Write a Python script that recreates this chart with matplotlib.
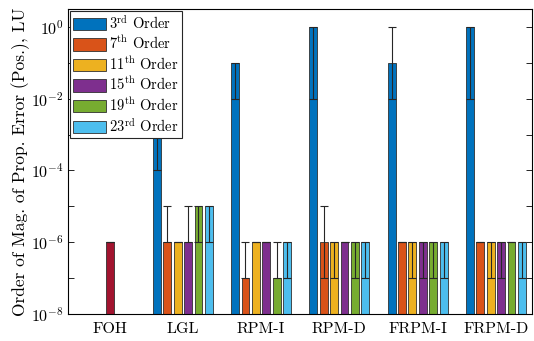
import numpy as np
import matplotlib
matplotlib.use("Agg")
import matplotlib.pyplot as plt
from matplotlib.ticker import FixedLocator, FuncFormatter

plt.rcParams["font.family"] = "serif"
plt.rcParams["font.serif"] = ["cmr10", "DejaVu Serif"]
plt.rcParams["mathtext.fontset"] = "cm"
plt.rcParams["axes.formatter.use_mathtext"] = True

groups = ["FOH", "LGL", "RPM-I", "RPM-D", "FRPM-I", "FRPM-D"]
orders = [r"3$^{\rm rd}$ Order", r"7$^{\rm th}$ Order", r"11$^{\rm th}$ Order",
          r"15$^{\rm th}$ Order", r"19$^{\rm th}$ Order", r"23$^{\rm rd}$ Order"]

# FOH (single series)
foh_val = 1e-6

# bar heights for LGL, RPM-I, RPM-D, FRPM-I, FRPM-D
val_3 = [1e-3, 1e-1, 1e0, 1e-1, 1e0]
val_7 = [1e-6, 1e-7, 1e-6, 1e-6, 1e-6]
val_11 = [1e-6, 1e-6, 1e-6, 1e-6, 1e-6]
val_15 = [1e-6, 1e-6, 1e-6, 1e-6, 1e-6]
val_19 = [1e-5, 1e-7, 1e-6, 1e-6, 1e-6]
val_23 = [1e-5, 1e-6, 1e-6, 1e-6, 1e-6]

# error bar lower ends
lo_3 = [1e-4, 1e-2, 1e-2, 1e-2, 1e-2]
lo_7 = [1e-6, 1e-7, 1e-7, 1e-6, 1e-6]
lo_11 = [1e-6, 1e-6, 1e-7, 1e-7, 1e-7]
lo_15 = [1e-6, 1e-6, 1e-6, 1e-7, 1e-7]
lo_19 = [1e-6, 1e-7, 1e-7, 1e-7, 1e-6]
lo_23 = [1e-6, 1e-7, 1e-7, 1e-7, 1e-7]

# error bar upper ends
hi_3 = [1e-3, 1e-1, 1e0, 1e0, 1e0]
hi_7 = [1e-5, 1e-6, 1e-5, 1e-6, 1e-6]
hi_11 = [1e-6, 1e-6, 1e-6, 1e-6, 1e-6]
hi_15 = [1e-5, 1e-6, 1e-6, 1e-6, 1e-6]
hi_19 = [1e-5, 1e-6, 1e-6, 1e-6, 1e-6]
hi_23 = [1e-5, 1e-6, 1e-6, 1e-6, 1e-6]

vals = [val_3, val_7, val_11, val_15, val_19, val_23]
los = [lo_3, lo_7, lo_11, lo_15, lo_19, lo_23]
his = [hi_3, hi_7, hi_11, hi_15, hi_19, hi_23]
colors = ["#0072BD", "#D95319", "#EDB120", "#7E2F8E", "#77AC30", "#4DBEEE"]
foh_color = "#A2142F"

fig = plt.figure(figsize=(5.34, 3.41), dpi=100)
ax = fig.add_axes([0.127, 0.079, 0.869, 0.895])
ax.set_yscale("log")

xg = np.arange(2, 7)
slot, w = 0.133, 0.10
err_kw = dict(fmt="none", ecolor="#262626", elinewidth=0.8, capsize=3.0, capthick=0.8, zorder=3)

for k in range(6):
    x = xg + (k - 2.5) * slot
    v = np.array(vals[k]); lo = np.array(los[k]); hi = np.array(his[k])
    ax.bar(x, v, width=w, bottom=1e-9, color=colors[k], edgecolor="#303030",
           linewidth=0.6, label=orders[k], zorder=2)
    ax.errorbar(x, v, yerr=[v - lo, hi - v], **err_kw)

x_foh = 1.074
ax.bar([x_foh], [foh_val], width=w, bottom=1e-9, color=foh_color,
       edgecolor="#303030", linewidth=0.6, zorder=2)
ax.errorbar([x_foh], [foh_val], yerr=[[0], [0]], **err_kw)

ax.set_xlim(0.53, 6.46)
ax.set_ylim(1e-8, 10 ** 0.5)
ax.set_xticks([x_foh] + list(xg))
ax.set_xticklabels(groups, fontsize=11.5)
ax.tick_params(axis="x", length=0, pad=6)

ax.yaxis.set_major_locator(FixedLocator([10.0 ** e for e in range(-8, 1)]))
ax.yaxis.set_minor_locator(FixedLocator([]))
ax.yaxis.set_major_formatter(FuncFormatter(
    lambda y, p: r"$10^{%d}$" % round(np.log10(y)) if round(np.log10(y)) % 2 == 0 else ""))
ax.tick_params(axis="y", which="major", direction="in", length=4, width=0.6,
               right=True, labelsize=11.5, pad=3)
for s in ax.spines.values():
    s.set_linewidth(0.8)

ax.set_ylabel("Order of Mag. of Prop. Error (Pos.), LU", fontsize=12.5, labelpad=1)

leg = ax.legend(loc="upper left", fontsize=10.5, fancybox=False, framealpha=1,
                edgecolor="#262626", borderaxespad=0.15, borderpad=0.2,
                labelspacing=0.22, handlelength=2.25, handleheight=0.95,
                handletextpad=0.25)
leg.get_frame().set_linewidth(0.8)

fig.savefig("out.png", dpi=100)
